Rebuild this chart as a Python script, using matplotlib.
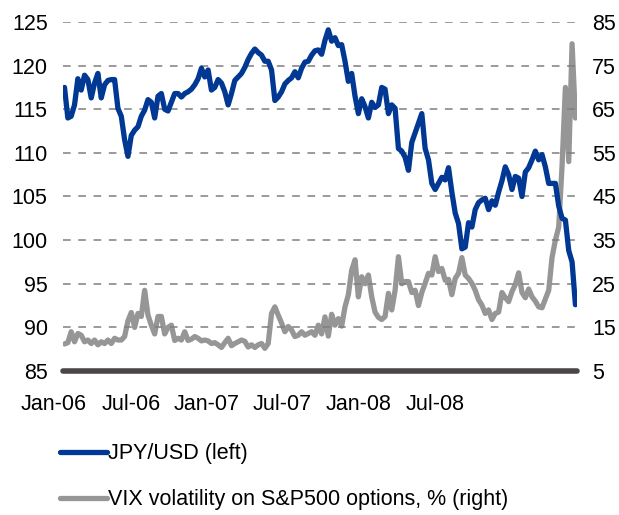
import matplotlib
matplotlib.use("Agg")
import matplotlib.pyplot as plt
import numpy as np
import pandas as pd

plt.rcParams['font.family'] = ['Liberation Sans', 'DejaVu Sans']

# JPY/USD, roughly weekly readings, Jan-06 .. late Oct-08
jpy = [117.5, 114.0, 114.2, 115.5, 118.5, 117.2, 118.9, 118.4, 116.3, 118.0,
       119.1, 116.3, 117.8, 118.3, 118.4, 118.4, 115.1, 114.2, 111.5, 109.6,
       112.0, 112.6, 113.0, 114.2, 114.9, 116.1, 115.8, 114.0, 116.5, 116.8,
       115.0, 114.8, 115.8, 116.8, 116.8, 116.4, 116.8,
       117.0, 117.3, 117.8, 118.5, 119.7, 118.7, 119.5, 117.2, 117.5, 118.4,
       118.0, 117.0, 115.5, 116.8, 118.3, 118.7, 119.1, 119.8, 120.7, 121.4,
       121.9, 121.5, 121.2, 120.5, 120.5, 119.5, 116.0, 116.4, 117.0, 117.9,
       118.3, 118.6, 119.3, 118.6, 119.7, 120.4, 120.5, 121.2, 121.7,
       121.8, 121.3, 122.9, 124.1, 122.8, 123.2, 122.3, 122.4, 120.5, 118.2,
       119.1, 116.5, 114.5, 116.2, 115.3, 114.0, 115.8, 115.2, 115.5, 117.5,
       117.3, 114.5, 115.5, 115.1, 110.5, 110.2, 109.5, 108.0, 111.2, 112.3,
       113.4, 114.5, 110.5, 109.2, 106.5, 105.8, 106.5, 107.2, 106.9,
       108.3, 105.5, 103.1, 101.9, 99.0, 99.2, 102.0, 101.5, 103.5, 104.3,
       104.6, 104.8, 103.5, 104.5, 104.0, 105.5, 106.8, 108.4, 107.5, 105.8,
       107.3, 107.1, 105.0, 107.8, 108.3, 109.2, 110.2, 109.2, 109.8, 108.4,
       106.5, 106.5, 106.5, 103.9, 102.5, 102.3, 98.8, 97.5, 92.6]

# VIX, same dates
vix = [11.2, 11.5, 14.0, 11.7, 13.6, 13.2, 11.7, 12.1, 11.3, 12.1,
       11.0, 11.7, 11.3, 12.1, 11.3, 12.5, 12.1, 12.1, 12.9, 16.5,
       18.4, 15.0, 18.2, 17.5, 23.5, 17.8, 15.5, 13.5, 17.5, 17.5,
       13.5, 15.0, 15.5, 12.0, 12.5, 12.1, 14.0,
       12.0, 12.3, 12.9, 12.5, 11.9, 12.1, 11.9, 11.3, 11.5, 11.0,
       10.4, 11.5, 12.5, 10.8, 11.3, 11.7, 12.1, 11.8, 10.5, 11.0,
       10.4, 11.0, 11.3, 10.2, 11.3, 18.2, 19.7, 17.8, 16.0, 14.0,
       15.2, 14.4, 12.9, 13.2, 14.0, 13.2, 13.6, 14.0, 13.2,
       15.5, 13.5, 17.4, 13.0, 18.0, 15.5, 17.0, 15.3, 19.7, 22.5,
       28.1, 30.5, 22.0, 26.6, 25.0, 27.0, 22.0, 18.5, 17.3, 16.8,
       17.5, 22.8, 19.0, 23.5, 31.2, 25.0, 25.5, 25.5, 23.0, 23.5,
       20.0, 23.0, 25.1, 27.4, 27.0, 31.2, 27.8, 28.5, 25.8,
       26.0, 22.5, 26.2, 27.4, 31.0, 27.0, 26.2, 25.1, 23.5, 21.3,
       20.1, 18.2, 19.0, 16.8, 18.2, 18.5, 23.0, 21.8, 20.9, 23.2,
       24.8, 27.5, 23.0, 21.8, 23.8, 22.0, 21.0, 19.7, 19.5, 21.5,
       23.5, 31.0, 35.0, 38.0, 52.0, 70.0, 53.0, 80.0, 63.0]

dates = pd.date_range('2006-01-04', '2008-10-27', periods=len(jpy))
xlabels = ['Jan-06', 'Jul-06', 'Jan-07', 'Jul-07', 'Jan-08', 'Jul-08']

blue = '#003893'
grey = '#969696'

fig = plt.figure(figsize=(6.19, 5.15), dpi=100)
ax = fig.add_axes([0.1018, 0.2796, 0.8302, 0.6777])
ax2 = ax.twinx()

for v in range(90, 126, 5):
    ax.axhline(v, color='#7f7f7f', lw=1.1, ls=(0, (5, 5)), zorder=0)

ax2.plot(dates, vix, color=grey, lw=3.8, solid_capstyle='round', solid_joinstyle='round')
ax.plot(dates, jpy, color=blue, lw=3.8, solid_capstyle='round', solid_joinstyle='round')
ax.set_zorder(ax2.get_zorder() + 1)
ax.patch.set_visible(False)

ax.set_xlim(pd.Timestamp('2006-01-01'), pd.Timestamp('2008-10-30'))
ax.set_ylim(85, 125)
ax2.set_ylim(5, 85)
ax.axhline(85, color='#4a4646', lw=4, solid_capstyle='round', clip_on=False)

ax.set_yticks(range(85, 126, 5))
ax2.set_yticks(range(5, 86, 10))
ax.set_xticks([])
for a in (ax, ax2):
    for s in a.spines.values():
        s.set_visible(False)
    a.tick_params(length=0, labelsize=15.5, pad=11)

pos = [-0.0175, 0.132, 0.280, 0.426, 0.576, 0.724]
for p, t in zip(pos, xlabels):
    ax.text(p, -0.097, t, transform=ax.transAxes, ha='center', va='center', fontsize=15.5)

h1, = ax.plot([], [], color=blue, lw=3.8, solid_capstyle='round')
h2, = ax.plot([], [], color=grey, lw=3.8, solid_capstyle='round')
fig.legend([h1, h2], ['JPY/USD (left)', 'VIX volatility on S&P500 options, % (right)'],
           loc='upper left', bbox_to_anchor=(0.097, 0.139), frameon=False, fontsize=15.5,
           handlelength=2.2, handletextpad=0.05, labelspacing=1.15, borderpad=0, borderaxespad=0)

fig.savefig('out.png', dpi=100)
